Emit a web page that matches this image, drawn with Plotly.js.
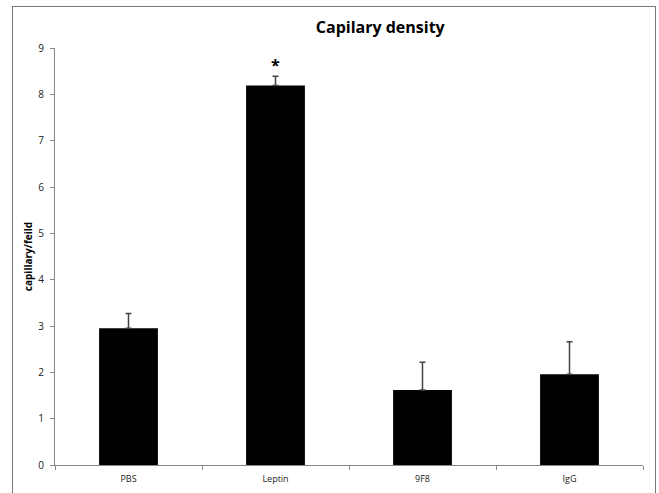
<!DOCTYPE html>
<html><head><meta charset="utf-8">
<script src="https://cdn.plot.ly/plotly-3.0.1.min.js"></script>
<style>
html,body{margin:0;padding:0;background:#fff;overflow:hidden}
#frame{position:absolute;left:12px;top:6px;width:644px;height:520px;border:1px solid #777;box-sizing:border-box}
#chart{position:absolute;left:0;top:0;width:659px;height:493px}
</style></head>
<body>
<div id="frame"></div>
<div id="chart"></div>
<script>
const categories = ["PBS", "Leptin", "9F8", "IgG"];
const means = [2.95, 8.19, 1.62, 1.96];
const errors = [0.32, 0.20, 0.60, 0.70];
const yTicks = [0,1,2,3,4,5,6,7,8,9];
const markLabel = "*";
const markCategory = "Leptin";
const markValue = 8.64;

const trace = {
  type: "bar",
  x: categories,
  y: means,
  marker: {color: "#000000", line: {color: "#000000", width: 0}},
  error_y: {type: "data", symmetric: false, array: errors, arrayminus: errors.map(() => 0),
            color: "#444444", thickness: 1.5, width: 3},
  hoverinfo: "none"
};

const layout = {
  width: 659, height: 493,
  margin: {l: 55, r: 16, t: 48, b: 28},
  paper_bgcolor: "rgba(0,0,0,0)",
  plot_bgcolor: "rgba(0,0,0,0)",
  bargap: 0.6,
  showlegend: false,
  font: {family: "Open Sans, Liberation Sans, sans-serif", color: "#222"},
  title: {text: "<b>Capilary density</b>", x: 0.577, xanchor: "center", y: 0.945, yanchor: "middle",
          font: {size: 16, family: "Open Sans, sans-serif", color: "#000"}},
  xaxis: {
    showline: true, linecolor: "#888", linewidth: 1,
    ticks: "outside", tickson: "boundaries", ticklen: 4, tickcolor: "#888",
    ticklabelstandoff: 5,
    tickfont: {size: 9, color: "#222"},
    showgrid: false, zeroline: false, fixedrange: true
  },
  yaxis: {
    range: [0, 9], tickvals: yTicks, ticktext: yTicks.map(String),
    showline: true, linecolor: "#888", linewidth: 1,
    ticks: "outside", ticklen: 4, tickcolor: "#888",
    ticklabelstandoff: 4,
    tickfont: {size: 10, color: "#222"},
    showgrid: false, zeroline: false, fixedrange: true,
    title: {text: "<b>capillary/feild</b>", font: {size: 10, color: "#000"}, standoff: 3}
  },
  annotations: [{
    x: markCategory, y: markValue, xref: "x", yref: "y", text: "<b>" + markLabel + "</b>",
    showarrow: false, font: {size: 16, color: "#000"}, yanchor: "middle"
  }]
};

Plotly.newPlot("chart", [trace], layout, {staticPlot: true});
</script>
</body></html>
